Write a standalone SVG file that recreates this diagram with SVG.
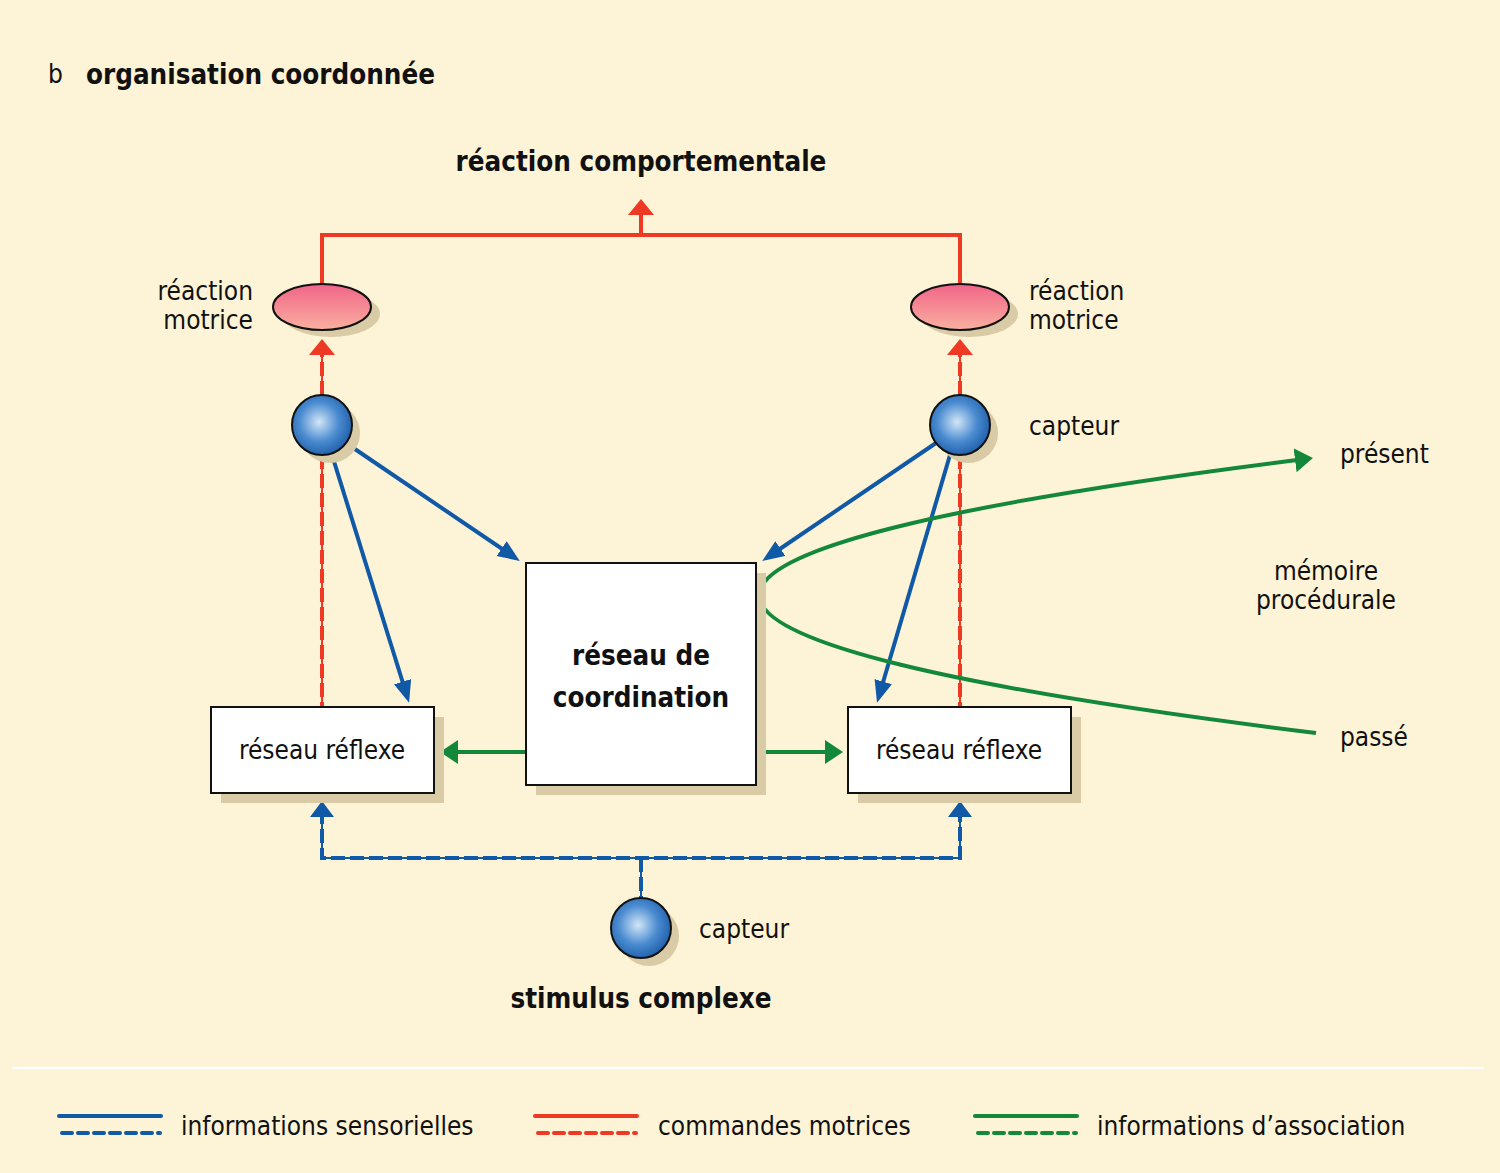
<svg xmlns="http://www.w3.org/2000/svg" width="1500" height="1173" viewBox="0 0 1500 1173">
<defs>
<style>
text{font-family:"DejaVu Sans Condensed","Liberation Sans Narrow","Liberation Sans",sans-serif;font-stretch:condensed;fill:#111}
.t{font-size:26px}
.b{font-size:27.5px;font-weight:bold}
.blue{stroke:#1059a6;stroke-width:4;fill:none}
.red{stroke:#ee3a24;stroke-width:4;fill:none}
.green{stroke:#13883a;stroke-width:4;fill:none}
.dash{stroke-dasharray:14 5}
.thin{stroke-width:2}
.shadow{fill:#d8cba6}
.box{fill:#fff;stroke:#111;stroke-width:2}
</style>
<radialGradient id="sph" cx="0.45" cy="0.45" r="0.6">
<stop offset="0" stop-color="#d2e6f7"/>
<stop offset="0.55" stop-color="#4a8bd0"/>
<stop offset="1" stop-color="#1b5aa6"/>
</radialGradient>
<linearGradient id="ell" x1="0" y1="0" x2="0" y2="1">
<stop offset="0" stop-color="#f06488"/>
<stop offset="1" stop-color="#fab0a0"/>
</linearGradient>
<marker id="ab" markerUnits="userSpaceOnUse" markerWidth="24" markerHeight="20" refX="15" refY="9" orient="auto"><path d="M0,0 L22,9 L0,18 z" fill="#1059a6"/></marker>
<marker id="ar" markerUnits="userSpaceOnUse" markerWidth="22" markerHeight="28" refX="8" refY="13" orient="auto"><path d="M0,0 L16,13 L0,26 z" fill="#ee3a24"/></marker>
<marker id="ab2" markerUnits="userSpaceOnUse" markerWidth="22" markerHeight="28" refX="8" refY="12" orient="auto"><path d="M0,0 L16,12 L0,24 z" fill="#1059a6"/></marker>
<marker id="ag" markerUnits="userSpaceOnUse" markerWidth="22" markerHeight="28" refX="10" refY="12" orient="auto"><path d="M0,0 L18,12 L0,24 z" fill="#13883a"/></marker>
</defs>
<rect width="1500" height="1173" fill="#fdf3d6"/>
<line x1="12" y1="1068" x2="1484" y2="1068" stroke="#ffffff" stroke-width="2"/>

<text x="48" y="83" class="t">b</text>
<text x="86" y="84" class="b">organisation coordonnée</text>
<text x="641" y="171" class="b" text-anchor="middle">réaction comportementale</text>

<g id="connectors">
<polyline class="red" points="322,285 322,235 960,235 960,285"/>
<line class="red" x1="641" y1="235" x2="641" y2="207" marker-end="url(#ar)"/>
<line class="red thin" x1="322" y1="395" x2="322" y2="348"/>
<line class="red dash" x1="322" y1="395" x2="322" y2="347" marker-end="url(#ar)"/>
<line class="red thin" x1="960" y1="395" x2="960" y2="348"/>
<line class="red dash" x1="960" y1="395" x2="960" y2="347" marker-end="url(#ar)"/>
<line class="red thin" x1="322" y1="455" x2="322" y2="706"/>
<line class="red dash" x1="322" y1="455" x2="322" y2="706"/>
<line class="red thin" x1="960" y1="455" x2="960" y2="706"/>
<line class="red dash" x1="960" y1="455" x2="960" y2="706"/>

<line class="blue" x1="346" y1="443" x2="514" y2="557" marker-end="url(#ab)"/>
<line class="blue" x1="332" y1="455" x2="407" y2="696" marker-end="url(#ab)"/>
<line class="blue" x1="936" y1="443" x2="768" y2="557" marker-end="url(#ab)"/>
<line class="blue" x1="950" y1="455" x2="879" y2="696" marker-end="url(#ab)"/>

<line class="blue thin" x1="322" y1="858" x2="960" y2="858"/>
<polyline class="blue dash" points="322,810 322,858 960,858 960,810"/>
<line class="blue thin" x1="322" y1="858" x2="322" y2="810"/>
<line class="blue thin" x1="960" y1="858" x2="960" y2="810"/>
<line class="blue" x1="322" y1="812" x2="322" y2="809" marker-end="url(#ab2)"/>
<line class="blue" x1="960" y1="812" x2="960" y2="809" marker-end="url(#ab2)"/>
<line class="blue thin" x1="641" y1="858" x2="641" y2="898"/>
<line class="blue dash" x1="641" y1="858" x2="641" y2="898"/>

<line class="green" x1="526" y1="752" x2="448" y2="752" marker-end="url(#ag)"/>
<line class="green" x1="756" y1="752" x2="835" y2="752" marker-end="url(#ag)"/>
<path class="green" d="M1316,733 Q208,596 1305,459" marker-end="url(#ag)"/>
</g>

<g id="ellipse-left">
<ellipse cx="331" cy="314" rx="49" ry="23" class="shadow"/>
<ellipse cx="322" cy="307" rx="49" ry="23" fill="url(#ell)" stroke="#111" stroke-width="2"/>
</g>
<g id="ellipse-right">
<ellipse cx="969" cy="314" rx="49" ry="23" class="shadow"/>
<ellipse cx="960" cy="307" rx="49" ry="23" fill="url(#ell)" stroke="#111" stroke-width="2"/>
</g>
<text x="253" y="300" class="t" text-anchor="end">réaction</text>
<text x="253" y="329" class="t" text-anchor="end">motrice</text>
<text x="1029" y="300" class="t">réaction</text>
<text x="1029" y="329" class="t">motrice</text>

<g id="sensor-left">
<circle cx="330" cy="433" r="30" class="shadow"/>
<circle cx="322" cy="425" r="30" fill="url(#sph)" stroke="#111" stroke-width="2"/>
</g>
<g id="sensor-right">
<circle cx="968" cy="433" r="30" class="shadow"/>
<circle cx="960" cy="425" r="30" fill="url(#sph)" stroke="#111" stroke-width="2"/>
<text x="1029" y="435" class="t">capteur</text>
</g>
<g id="sensor-bottom">
<circle cx="649" cy="936" r="30" class="shadow"/>
<circle cx="641" cy="928" r="30" fill="url(#sph)" stroke="#111" stroke-width="2"/>
<text x="699" y="938" class="t">capteur</text>
</g>
<text x="641" y="1008" class="b" text-anchor="middle">stimulus complexe</text>

<g id="coordination">
<rect x="536" y="573" width="230" height="222" class="shadow"/>
<rect x="526" y="563" width="230" height="222" class="box"/>
<text x="641" y="665" class="b" text-anchor="middle">réseau de</text>
<text x="641" y="707" class="b" text-anchor="middle">coordination</text>
</g>
<g id="reflex-left">
<rect x="221" y="717" width="223" height="86" class="shadow"/>
<rect x="211" y="707" width="223" height="86" class="box"/>
<text x="322" y="759" class="t" text-anchor="middle">réseau réflexe</text>
</g>
<g id="reflex-right">
<rect x="858" y="717" width="223" height="86" class="shadow"/>
<rect x="848" y="707" width="223" height="86" class="box"/>
<text x="959" y="759" class="t" text-anchor="middle">réseau réflexe</text>
</g>

<text x="1340" y="463" class="t">présent</text>
<text x="1326" y="580" class="t" text-anchor="middle">mémoire</text>
<text x="1326" y="609" class="t" text-anchor="middle">procédurale</text>
<text x="1340" y="746" class="t">passé</text>

<g id="legend" stroke-linecap="round">
<line x1="59" y1="1116" x2="161" y2="1116" class="blue" stroke-width="5"/>
<line x1="62" y1="1133" x2="160" y2="1133" class="blue" stroke-width="5" stroke-dasharray="10 6"/>
<text x="181" y="1135" class="t">informations sensorielles</text>
<line x1="535" y1="1116" x2="637" y2="1116" class="red" stroke-width="5"/>
<line x1="538" y1="1133" x2="636" y2="1133" class="red" stroke-width="5" stroke-dasharray="10 6"/>
<text x="658" y="1135" class="t">commandes motrices</text>
<line x1="975" y1="1116" x2="1077" y2="1116" class="green" stroke-width="5"/>
<line x1="978" y1="1133" x2="1076" y2="1133" class="green" stroke-width="5" stroke-dasharray="10 6"/>
<text x="1097" y="1135" class="t">informations d’association</text>
</g>
</svg>
